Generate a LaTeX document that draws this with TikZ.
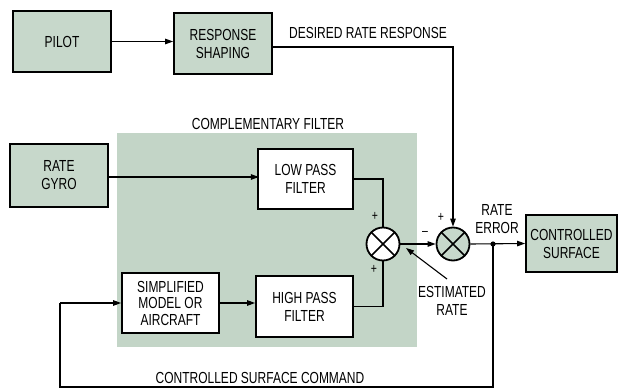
\documentclass[tikz,border=0pt]{standalone}
\usepackage{fontspec}
\setmainfont{Liberation Sans}[FakeStretch=0.75]
\usetikzlibrary{arrows.meta}
\definecolor{boxfill}{HTML}{C7D8CB}
\definecolor{regfill}{HTML}{C3D5C7}
\begin{document}
\begin{tikzpicture}[x=1pt,y=-1pt,
  font=\fontsize{16}{18}\selectfont,
  blk/.style={draw,line width=1.8pt,fill=boxfill,align=center,inner sep=0pt},
  wblk/.style={blk,fill=white},
  summer/.style={circle,draw,line width=1.8pt,minimum size=33pt,inner sep=0pt,
    path picture={\draw[line width=1.5pt]
      (path picture bounding box.north west) -- (path picture bounding box.south east)
      (path picture bounding box.north east) -- (path picture bounding box.south west);}},
  conn/.style={line width=1.1pt},
  arr/.style={conn,-{Triangle[length=8pt,width=5.5pt]}},
  lbl/.style={align=center,inner sep=0pt},
  sign/.style={inner sep=0pt,font=\fontsize{14}{14}\selectfont}]
\useasboundingbox (0,0) rectangle (619,390);
\fill[white] (0,0) rectangle (619,390);
% complementary filter region
\fill[regfill] (117,133) rectangle (417,347);
\node[lbl] (cflbl) at (268,124) {COMPLEMENTARY FILTER};
% blocks
\node[blk,minimum width=98pt,minimum height=61pt] (pilot) at (62,41.5) {PILOT};
\node[blk,minimum width=98pt,minimum height=61pt] (rs) at (223,43.5) {RESPONSE\\SHAPING};
\node[blk,minimum width=98pt,minimum height=63pt] (rg) at (59,175.5) {RATE\\GYRO};
\node[wblk,minimum width=95pt,minimum height=60pt] (lpf) at (305.5,179) {LOW PASS\\FILTER};
\node[wblk,minimum width=97pt,minimum height=61pt] (hpf) at (304.5,306.5) {HIGH PASS\\FILTER};
\node[wblk,minimum width=97pt,minimum height=60pt,font=\fontsize{16}{16.5}\selectfont] (sm) at (170.5,303) {SIMPLIFIED\\MODEL OR\\AIRCRAFT};
\node[blk,minimum width=91pt,minimum height=57pt] (cs) at (571.5,243.5) {CONTROLLED\\SURFACE};
\node[summer,fill=white] (s1) at (383,244) {};
\node[summer,fill=boxfill] (s2) at (453,244) {};
% labels
\node[lbl] (drr) at (368,33) {DESIRED RATE RESPONSE};
\node[lbl] (re) at (497,219) {RATE\\ERROR};
\node[lbl] (er) at (452,300.5) {ESTIMATED\\RATE};
\node[lbl] (csc) at (260,378) {CONTROLLED SURFACE COMMAND};
\node[sign] (p1) at (375,216) {+};
\node[sign] (p2) at (374,269) {+};
\node[sign] (p3) at (441,217) {+};
\node[sign] (m1) at (425,233) {\textendash};
% connectors
\draw[arr] (pilot.east) -- (pilot.east -| rs.west);
\draw[arr] (rs.east) ++(0,3.5) -| (s2.north);
\draw[arr] (rg.east) ++(0,1.5) -- ++(150,0);
\draw[conn] (lpf.east) -| (s1.north);
\draw[conn] (hpf.east) -| (s1.south);
\draw[arr] (sm.east) -- (sm.east -| hpf.west);
\draw[arr] (s1.east) -- (s2.west);
\draw[arr] (s2.east) -- (cs.west);
\coordinate (dot) at (493,244);
\coordinate (fb1) at (493,387);
\coordinate (fb2) at (60,387);
\coordinate (fb3) at (60,303);
\fill (dot) circle (2.6pt);
\draw[conn] (dot) -- (fb1) -- (fb2) -- (fb3);
\draw[arr] (fb3) -- (sm.west);
\coordinate (est1) at (447,279);
\coordinate (est2) at (406,248);
\draw[arr] (est1) -- (est2);
\end{tikzpicture}
\end{document}
